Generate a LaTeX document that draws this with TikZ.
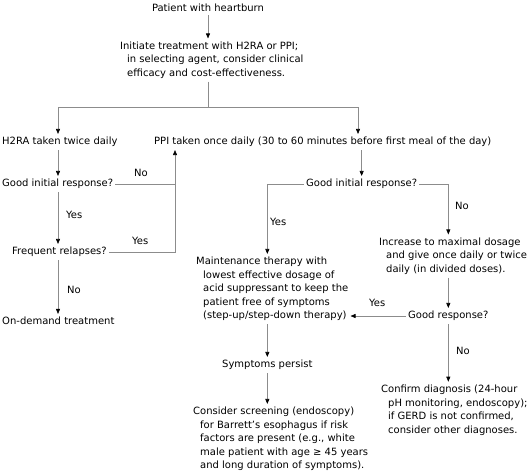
\documentclass[tikz,border=0pt]{standalone}
\usepackage{fontspec}
\setmainfont{DejaVu Sans}
\usetikzlibrary{arrows.meta}
\tikzset{
  txt/.style={anchor=west, inner xsep=2pt, inner ysep=3pt, align=left,
    font=\fontsize{10}{13.5}\selectfont},
  lbl/.style={anchor=west, inner sep=0pt, font=\fontsize{10}{13.5}\selectfont},
  line/.style={draw=black!45, line width=0.6pt},
  arr/.style={line, -{Triangle[length=5pt,width=4pt,color=black]}},
}
\newcommand{\ind}{\hspace*{7pt}}
\begin{document}
\begin{tikzpicture}[x=1pt,y=-1pt]
\useasboundingbox (0,0) rectangle (527,475);
% text blocks
\node[txt,anchor=center] (pat) at (208,8) {Patient with heartburn};
\node[txt] (init) at (118,60) {Initiate treatment with H2RA or PPI;\\
  \ind in selecting agent, consider clinical\\
  \ind efficacy and cost-effectiveness.};
\node[txt] (h2ra) at (0,142) {H2RA taken twice daily};
\node[txt] (ppi) at (152,142) {PPI taken once daily (30 to 60 minutes before first meal of the day)};
\node[txt] (good1) at (0,184) {Good initial response?};
\node[txt] (freq) at (10,252) {Frequent relapses?};
\node[txt] (ondem) at (0,321) {On-demand treatment};
\node[txt] (good2) at (304,184) {Good initial response?};
\node[txt] (maint) at (194,289) {Maintenance therapy with\\
  \ind lowest effective dosage of\\
  \ind acid suppressant to keep the\\
  \ind patient free of symptoms\\
  \ind (step-up/step-down therapy)};
\node[txt] (incr) at (377,256) {Increase to maximal dosage\\
  \ind and give once daily or twice\\
  \ind daily (in divided doses).};
\node[txt] (goodr) at (406,316) {Good response?};
\node[txt] (symp) at (220,365) {Symptoms persist};
\node[txt] (consid) at (191,439) {Consider screening (endoscopy)\\
  \ind for Barrett’s esophagus if risk\\
  \ind factors are present (e.g., white\\
  \ind male patient with age ≥ 45 years\\
  \ind and long duration of symptoms).};
\node[txt] (confirm) at (379,410) {Confirm diagnosis (24-hour\\
  \ind pH monitoring, endoscopy);\\
  \ind if GERD is not confirmed,\\
  \ind consider other diagnoses.};

% bend points
\coordinate (split) at (208,107);
\coordinate (lx) at (58,0);
\coordinate (px) at (358,0);
\coordinate (bx) at (175,0);

% connectors
\draw[arr] (pat.south) -- (pat.south |- init.north);
\draw[line] (pat.south |- init.south) -- (split);
\draw[arr] (split) -| (lx |- h2ra.north);
\draw[arr] (split) -| (px |- ppi.north);
\draw[arr] (lx |- h2ra.south) -- (lx |- good1.north);
\draw[arr] (good1.east) -| (bx |- ppi.south);
\draw[arr] (lx |- good1.south) -- (lx |- freq.north);
\draw[line] (freq.east) -| (bx |- good1.east);
\draw[arr] (lx |- freq.south) -- (lx |- ondem.north);
\draw[arr] (good2.north |- ppi.south) -- (good2.north);
\draw[arr] (good2.west) -| (symp |- maint.north);
\draw[arr] (good2.east) -| (goodr |- incr.north);
\draw[arr] (goodr |- incr.south) -- (goodr.north);
\draw[arr] (goodr.west) -- (goodr.west -| maint.east);
\draw[arr] (goodr.south) -- (goodr.south |- confirm.north);
\draw[arr] (symp |- maint.south) -- (symp.north);
\draw[arr] (symp.south) -- (symp.south |- consid.north);

% branch labels
\node[lbl] (no1) at (134,173) {No};
\node[lbl] (yes1) at (66,215) {Yes};
\node[lbl] (yes2) at (132,241) {Yes};
\node[lbl] (no2) at (67,290) {No};
\node[lbl] (yes3) at (270,222) {Yes};
\node[lbl] (no3) at (455,206) {No};
\node[lbl] (yes4) at (369,303) {Yes};
\node[lbl] (no4) at (456,351) {No};
\end{tikzpicture}
\end{document}
